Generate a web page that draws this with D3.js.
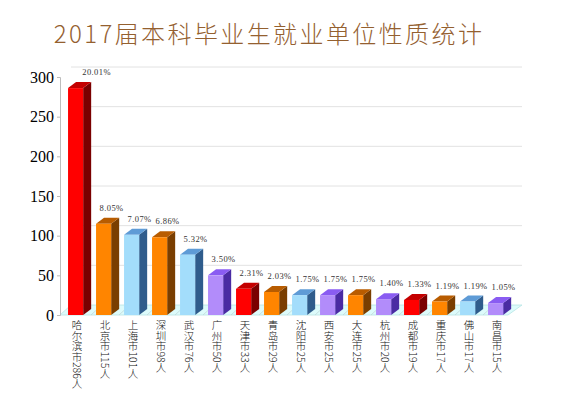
<!DOCTYPE html>
<html>
<head>
<meta charset="utf-8">
<script src="https://cdn.jsdelivr.net/npm/d3@7"></script>
<style>
  body { margin: 0; background: #fff; }
  svg { display: block; }
</style>
</head>
<body>
<div id="chart"></div>
<script>
// cities and counts
const cities = ["哈尔滨市", "北京市", "上海市", "深圳市", "武汉市", "广州市", "天津市", "青岛市",
  "沈阳市", "西安市", "大连市", "杭州市", "成都市", "重庆市", "佛山市", "南昌市"]
const counts = [286, 115, 101, 98, 76, 50, 33, 29, 25, 25, 25, 20, 19, 17, 17, 15]
const percents = ["20.01%", "8.05%", "7.07%", "6.86%", "5.32%", "3.50%", "2.31%", "2.03%",
  "1.75%", "1.75%", "1.75%", "1.40%", "1.33%", "1.19%", "1.19%", "1.05%"]
const colorKeys = ["red", "orange", "blue", "orange", "blue", "purple", "red", "orange",
  "blue", "purple", "orange", "purple", "red", "orange", "blue", "purple"]
const yTicks = [0, 50, 100, 150, 200, 250, 300]

// front / side / top shades for each bar colour
const palette = {
  red:    { front: "#FF0000", side: "#7A0000", top: "#C40000" },
  orange: { front: "#FF8500", side: "#7A3E00", top: "#B85C00" },
  blue:   { front: "#A3DDFB", side: "#2F5C8C", top: "#5E9BD6" },
  purple: { front: "#B28CFA", side: "#4A2BA3", top: "#8A5CF2" }
}

const W = 566, H = 403
const depth = { x: 8, y: -6 }      // bar depth
const wall = { x: 11, y: -10 }     // back wall offset

const svg = d3.select("#chart").append("svg")
  .attr("width", W)
  .attr("height", H)

// title
svg.append("text")
  .attr("x", 269)
  .attr("y", 43)
  .attr("text-anchor", "middle")
  .style("font-family", "'Noto Sans CJK SC', sans-serif")
  .style("font-size", "24px")
  .style("font-weight", "300")
  .style("letter-spacing", "2.4px")
  .style("fill", "#94602F")
  .text("2017届本科毕业生就业单位性质统计")

const x = d3.scaleBand()
  .domain(cities)
  .range([63, 511])

const y = d3.scaleLinear()
  .domain([0, 300])
  .range([315, 77])

const x0 = 60

// back wall grid lines
svg.append("g").selectAll("line")
  .data(yTicks.filter(d => d > 0))
  .enter()
  .append("line")
  .attr("x1", x0 + wall.x)
  .attr("x2", 522)
  .attr("y1", d => y(d) + wall.y)
  .attr("y2", d => y(d) + wall.y)
  .attr("stroke", "#E2E2E2")
  .attr("stroke-width", 1)

// floor
svg.append("polygon")
  .attr("points", [
    [x0, y(0)], [508, y(0)], [508 + wall.x + 3, y(0) + wall.y], [x0 + wall.x, y(0) + wall.y]
  ].map(p => p.join(",")).join(" "))
  .attr("fill", "#DDFBFB")
  .attr("stroke", "#B8E4E4")
  .attr("stroke-width", 0.8)

// floor separators between categories
svg.append("g").selectAll("line")
  .data(cities.slice(1))
  .enter()
  .append("line")
  .attr("x1", d => x(d))
  .attr("x2", d => x(d) + wall.x)
  .attr("y1", y(0))
  .attr("y2", y(0) + wall.y)
  .attr("stroke", "#C2D8D8")
  .attr("stroke-width", 0.8)

// y axis
const yAxis = svg.append("g")
  .attr("transform", `translate(${x0},0)`)
  .attr("font-family", "'Liberation Serif', serif")
  .call(d3.axisLeft(y).tickValues(yTicks).tickSize(3).tickPadding(3))
yAxis.attr("font-family", "'Liberation Serif', serif").attr("font-size", 16)
yAxis.select(".domain").attr("stroke", "#BDBDBD")
yAxis.selectAll(".tick line").attr("stroke", "#BDBDBD")
yAxis.selectAll(".tick text")
  .style("font-family", "'Liberation Serif', serif")
  .style("font-size", "16px")
  .attr("fill", "#000")

// bars
const bw = x.bandwidth()
const frontW = bw * 0.54
const offset = bw * 0.18

const bars = svg.append("g").selectAll("g")
  .data(cities.map((c, i) => ({ city: c, count: counts[i], pct: percents[i], col: palette[colorKeys[i]] })))
  .enter()
  .append("g")

bars.append("polygon")   // side
  .attr("points", d => {
    const xr = x(d.city) + offset + frontW
    return [[xr, y(d.count)], [xr + depth.x, y(d.count) + depth.y],
      [xr + depth.x, y(0) + depth.y], [xr, y(0)]].map(p => p.join(",")).join(" ")
  })
  .attr("fill", d => d.col.side)

bars.append("polygon")   // top
  .attr("points", d => {
    const xl = x(d.city) + offset
    const yt = y(d.count)
    return [[xl, yt], [xl + frontW, yt], [xl + frontW + depth.x, yt + depth.y],
      [xl + depth.x, yt + depth.y]].map(p => p.join(",")).join(" ")
  })
  .attr("fill", d => d.col.top)

bars.append("rect")      // front
  .attr("x", d => x(d.city) + offset)
  .attr("y", d => y(d.count))
  .attr("width", frontW)
  .attr("height", d => y(0) - y(d.count))
  .attr("fill", d => d.col.front)

// percentage labels
bars.append("text")
  .attr("x", (d, i) => x(d.city) + offset + frontW / 2 + (i === 0 ? 21 : 8))
  .attr("y", d => y(d.count) + depth.y - 7)
  .attr("text-anchor", "middle")
  .style("font-family", "'Liberation Serif', serif")
  .style("font-size", "8.5px")
  .style("letter-spacing", "0.4px")
  .attr("fill", "#333")
  .text(d => d.pct)

// vertical category labels
svg.append("g").selectAll("text")
  .data(cities.map((c, i) => ({ city: c, label: c + counts[i] + "人" })))
  .enter()
  .append("text")
  .attr("x", d => x(d.city) + bw / 2)
  .attr("y", 320)
  .style("writing-mode", "vertical-rl")
  .style("text-orientation", "mixed")
  .style("font-family", "'Noto Sans CJK SC', sans-serif")
  .style("font-size", "10.5px")
  .style("font-weight", "300")
  .attr("fill", "#111")
  .text(d => d.label)
</script>
</body>
</html>
